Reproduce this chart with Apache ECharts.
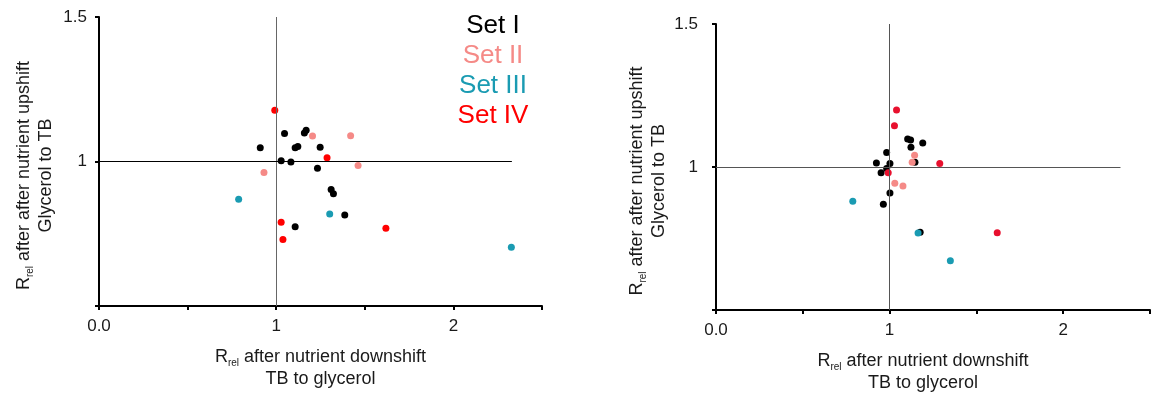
<!DOCTYPE html>
<html>
<head>
<meta charset="utf-8">
<script src="https://cdn.jsdelivr.net/npm/echarts@6/dist/echarts.min.js"></script>
<style>
  html, body { margin: 0; background: #fff; }
  #chart { width: 1153px; height: 399px; }
</style>
</head>
<body>
<div id="chart"></div>
<script>
// sets, colours of the labels/dots
var setNames = ['Set I', 'Set II', 'Set III', 'Set IV'];
var setColors = ['#000000', '#f58a87', '#1a9bb2', '#ff0000'];
var setColorsRight = ['#000000', '#f58a87', '#1a9bb2', '#e8102e'];

// left panel: [downshift, upshift]
var leftSetI = [[0.91, 1.048], [1.047, 1.097], [1.028, 1.003], [1.083, 0.998], [1.107, 1.048],
  [1.122, 1.052], [1.159, 1.099], [1.169, 1.108], [1.248, 1.049], [1.233, 0.977],
  [1.31, 0.903], [1.323, 0.888], [1.387, 0.815], [1.107, 0.774]];
var leftSetII = [[1.205, 1.088], [1.42, 1.089], [1.462, 0.986], [0.931, 0.962]];
var leftSetIII = [[0.788, 0.869], [1.302, 0.818], [2.327, 0.703]];
var leftSetIV = [[0.992, 1.177], [1.287, 1.013], [1.028, 0.79], [1.038, 0.73], [1.619, 0.769]];

// right panel
var rightSetI = [[0.983, 1.051], [0.924, 1.014], [1.002, 1.012], [0.983, 0.995], [0.951, 0.98],
  [1.002, 0.909], [0.964, 0.87], [1.104, 1.098], [1.121, 1.094], [1.123, 1.069],
  [1.191, 1.084], [1.146, 1.017], [1.176, 0.772]];
var rightSetII = [[1.144, 1.041], [1.13, 1.017], [1.03, 0.943], [1.077, 0.934]];
var rightSetIII = [[0.788, 0.88], [1.164, 0.769], [1.35, 0.672]];
var rightSetIV = [[1.04, 1.199], [1.028, 1.144], [1.289, 1.012], [0.992, 0.98], [1.62, 0.77]];

// axes
var xTicks = [0, 1, 2];
var xTickLabels = ['0.0', '1', '2'];
var yTicks = [1, 1.5];
var yTickLabels = ['1', '1.5'];
var crossX = 1, crossY = 1, hLineEnd = 2.33;

var FONT = 'Liberation Sans, Arial, sans-serif';
var subRich = {
  r: { fontSize: 18, fontFamily: FONT, color: '#1a1a1a', lineHeight: 22 },
  s: { fontSize: 10, fontFamily: FONT, color: '#1a1a1a', lineHeight: 12, verticalAlign: 'bottom' }
};

function tickFmt(ticks, labels) {
  return function (v) {
    for (var i = 0; i < ticks.length; i++) {
      if (Math.abs(ticks[i] - v) < 1e-9) return labels[i];
    }
    return '';
  };
}

function xAxisFor(idx, pad) {
  return {
    type: 'value', gridIndex: idx, min: 0, max: 2.5, interval: 0.5,
    splitLine: { show: false },
    axisLine: { onZero: false, lineStyle: { color: '#000', width: 2 } },
    axisTick: { length: 4, lineStyle: { color: '#000', width: 2 } },
    axisLabel: { fontSize: 17, fontFamily: FONT, color: '#1a1a1a', margin: 12,
      formatter: tickFmt(xTicks, xTickLabels) },
    name: '{r|R}{s|rel} after nutrient downshift\nTB to glycerol',
    nameLocation: 'middle', nameGap: 40,
    nameTextStyle: { fontSize: 18, fontFamily: FONT, color: '#1a1a1a', lineHeight: 22,
      padding: pad, rich: subRich }
  };
}

function yAxisFor(idx, margin) {
  return {
    type: 'value', gridIndex: idx, min: 0.5, max: 1.5, interval: 0.5,
    splitLine: { show: false },
    axisLine: { onZero: false, lineStyle: { color: '#000', width: 2 } },
    axisTick: { length: 4, lineStyle: { color: '#000', width: 2 } },
    axisLabel: { fontSize: 17, fontFamily: FONT, color: '#1a1a1a', margin: margin,
      formatter: tickFmt(yTicks, yTickLabels) },
    name: '{r|R}{s|rel} after after nutrient upshift\nGlycerol to TB',
    nameLocation: 'middle', nameRotate: 90, nameGap: 42,
    nameTextStyle: { fontSize: 18, fontFamily: FONT, color: '#1a1a1a', lineHeight: 22,
      padding: [0, 28, 0, 0], rich: subRich }
  };
}

function refLines(idx, vColor, hColor) {
  return {
    type: 'scatter', xAxisIndex: idx, yAxisIndex: idx, data: [], z: 1,
    markLine: {
      silent: true, symbol: ['none', 'none'], label: { show: false },
      data: [
        [{ coord: [crossX, 0.5], lineStyle: { color: vColor, width: 1, type: 'solid' } },
         { coord: [crossX, 1.5] }],
        [{ coord: [0, crossY], lineStyle: { color: hColor, width: 1, type: 'solid' } },
         { coord: [hLineEnd, crossY] }]
      ]
    }
  };
}

function dots(idx, name, data, color) {
  return {
    type: 'scatter', name: name, xAxisIndex: idx, yAxisIndex: idx, data: data, z: 3,
    symbolSize: 7, itemStyle: { color: color, opacity: 1 }
  };
}

var leftSets = [leftSetI, leftSetII, leftSetIII, leftSetIV];
var rightSets = [rightSetI, rightSetII, rightSetIII, rightSetIV];

var series = [refLines(0, '#666', '#000'), refLines(1, '#555', '#555')];
leftSets.forEach(function (d, i) { series.push(dots(0, setNames[i], d, setColors[i])); });
rightSets.forEach(function (d, i) { series.push(dots(1, setNames[i], d, setColorsRight[i])); });

var legendText = setNames.map(function (n, i) {
  return {
    type: 'text', x: 493, y: 26 + i * 30,
    style: { text: n, fill: setColors[i], font: '26px ' + FONT, align: 'center', verticalAlign: 'middle' }
  };
});

var chart = echarts.init(document.getElementById('chart'));
chart.setOption({
  animation: false,
  backgroundColor: '#fff',
  grid: [
    { left: 99, top: 17, width: 443, height: 289 },
    { left: 716, top: 24, width: 441, height: 287 }
  ],
  xAxis: [xAxisFor(0, [0, 0, 0, 0]), xAxisFor(1, [0, 20, 0, 0])],
  yAxis: [yAxisFor(0, 12), yAxisFor(1, 18)],
  graphic: legendText,
  series: series
});
</script>
</body>
</html>
